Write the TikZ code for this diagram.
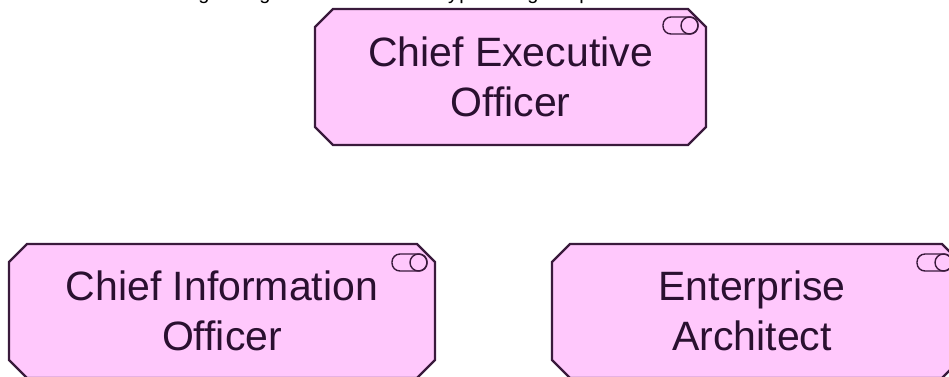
\documentclass[tikz,border=0pt]{standalone}
\usepackage{fontspec}
\setmainfont{Liberation Sans}
\usetikzlibrary{shapes.misc}
\definecolor{rolefill}{HTML}{FFC8FC}
\definecolor{roleline}{HTML}{3A1A3C}
\definecolor{roletext}{HTML}{2A1030}
\tikzset{every picture/.append style={x=1pt,y=-1pt}}
\tikzset{rolebox/.style={draw=roleline,fill=rolefill,line width=2.4pt,text=roletext,
    chamfered rectangle,chamfered rectangle angle=45,chamfered rectangle sep=9pt,
    inner sep=0pt,align=center,font=\fontsize{41}{50}\selectfont}}
\tikzset{roleicon/.style={draw=roleline,line width=1.4pt}}

\begin{document}
\begin{tikzpicture}
  \useasboundingbox (0,0) rectangle (949,376);
  \node[rolebox,minimum width=391pt,minimum height=136pt] (ceo) at(510.5,77){Chief Executive\\Officer};
  \node[rolebox,minimum width=426pt,minimum height=134pt] (cio) at(222,311){Chief Information\\Officer};
  \node[rolebox,minimum width=408pt,minimum height=134pt] (ea) at(756,311){Enterprise\kern8pt\\Architect\kern8pt};
  % role icons
  \foreach \ix/\iy in {680.5/25.5, 409.5/262.5, 934.5/262.5}{
    \draw[roleicon,rounded corners=8pt] (\ix-17.5,\iy-8.5) rectangle (\ix+17.5,\iy+8.5);
    \draw[roleicon] (\ix+9,\iy) circle (8.5);
  }
  % clipped caption line
  \foreach \lx/\ch in {204/g, 265/g, 453/y, 465/p, 533/g, 585/p}{
    \node[anchor=base,inner sep=0pt,font=\fontsize{20}{24}\selectfont] at(\lx,-0.5){\ch};
  }
\end{tikzpicture}
\end{document}
